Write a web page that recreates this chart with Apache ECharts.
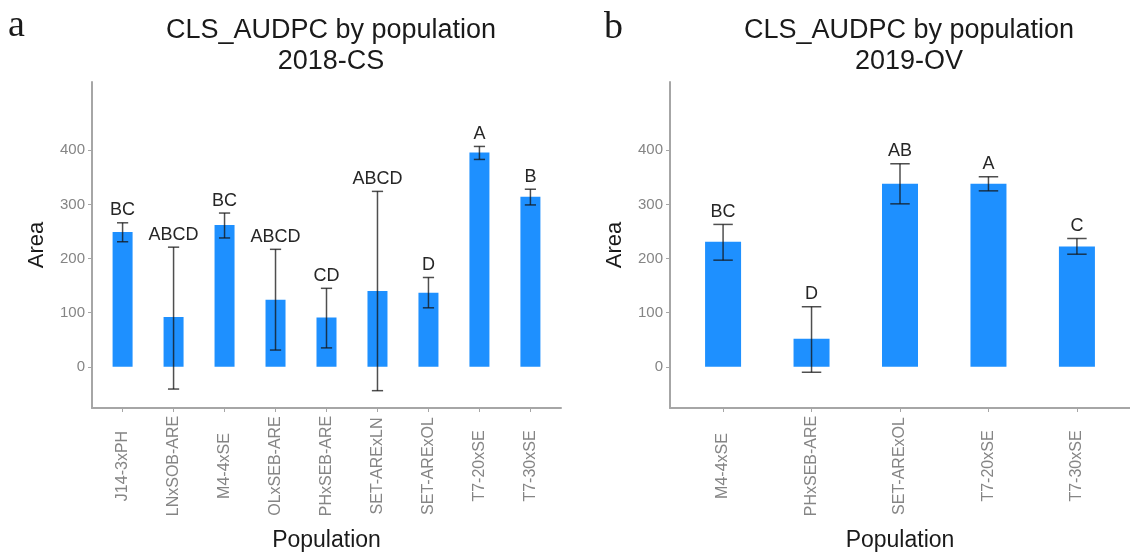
<!DOCTYPE html>
<html>
<head>
<meta charset="utf-8">
<script src="https://cdn.jsdelivr.net/npm/echarts@6/dist/echarts.min.js"></script>
<style>
html,body{margin:0;padding:0;background:#fff;}
#chart{width:1130px;height:557px;}
</style>
</head>
<body>
<div id="chart"></div>
<script>
// ---- data ----
const cats2018 = ['J14-3xPH','LNxSOB-ARE','M4-4xSE','OLxSEB-ARE','PHxSEB-ARE','SET-ARExLN','SET-ARExOL','T7-20xSE','T7-30xSE'];
const mean2018 = [249, 92, 262, 124, 91, 140, 137, 396, 314];
const low2018  = [231, -41, 238, 31, 35, -44, 109, 383, 299];
const high2018 = [266, 221, 284, 217, 145, 324, 165, 407, 328];
const letters2018 = ['BC','ABCD','BC','ABCD','CD','ABCD','D','A','B'];

const cats2019 = ['M4-4xSE','PHxSEB-ARE','SET-ARExOL','T7-20xSE','T7-30xSE'];
const mean2019 = [231, 52, 338, 338, 222];
const low2019  = [197, -10, 301, 325, 208];
const high2019 = [263, 111, 375, 351, 237];
const letters2019 = ['BC','D','AB','A','C'];

const yTicks = [0, 100, 200, 300, 400];
const titles = ['CLS_AUDPC by population\n2018-CS', 'CLS_AUDPC by population\n2019-OV'];
const panelTags = ['a', 'b'];

// ---- styling ----
const FONT = 'Liberation Sans, Arial, sans-serif';
const AXIS_GRAY = '#a6a6a6';
const TICK_TEXT = '#858585';
const BAR = '#1E90FF';

const chart = echarts.init(document.getElementById('chart'));

function xAxisFor(cats, gridIndex) {
  const idx = cats.map((_, i) => i + 1);
  return {
    type: 'value', gridIndex, min: 0.4, max: cats.length + 0.6,
    name: 'Population', nameLocation: 'middle', nameGap: 121,
    nameTextStyle: {fontFamily: FONT, fontSize: 23, color: '#1a1a1a'},
    splitLine: {show: false},
    axisLine: {show: true, onZero: false, lineStyle: {color: AXIS_GRAY, width: 2}},
    axisTick: {show: true, length: 4, customValues: idx, lineStyle: {color: AXIS_GRAY, width: 1}},
    axisLabel: {
      customValues: idx, rotate: 90, align: 'center', verticalAlign: 'middle', margin: 58,
      fontFamily: FONT, fontSize: 16, color: TICK_TEXT,
      formatter: v => cats[Math.round(v) - 1] || ''
    }
  };
}
function yAxisFor(gridIndex) {
  return {
    type: 'value', gridIndex, min: -76, max: 526,
    name: 'Area', nameLocation: 'middle', nameGap: 44, nameRotate: 90,
    nameTextStyle: {fontFamily: FONT, fontSize: 22, color: '#1a1a1a'},
    splitLine: {show: false},
    axisLine: {show: true, onZero: false, lineStyle: {color: AXIS_GRAY, width: 2}},
    axisTick: {show: true, length: 4, customValues: yTicks, lineStyle: {color: AXIS_GRAY, width: 1}},
    axisLabel: {customValues: yTicks, margin: 7, fontFamily: FONT, fontSize: 15, color: TICK_TEXT}
  };
}

function barSeries(means, gridIndex, width) {
  return {
    type: 'bar', xAxisIndex: gridIndex, yAxisIndex: gridIndex,
    barWidth: width, itemStyle: {color: BAR}, silent: true,
    data: means.map((m, i) => [i + 1, m])
  };
}
function errSeries(lows, highs, letters, gridIndex) {
  return {
    type: 'custom', xAxisIndex: gridIndex, yAxisIndex: gridIndex, silent: true, z: 5,
    data: lows.map((l, i) => [i + 1, l, highs[i], letters[i]]),
    renderItem: function (params, api) {
      const x = api.value(0);
      const lo = api.coord([x, api.value(1)]);
      const hi = api.coord([x, api.value(2)]);
      const half = api.size([0.11, 0])[0];
      const st = {stroke: 'rgba(20,20,20,0.75)', lineWidth: 1.5};
      return {
        type: 'group',
        children: [
          {type: 'line', shape: {x1: lo[0], y1: lo[1], x2: hi[0], y2: hi[1]}, style: st},
          {type: 'line', shape: {x1: lo[0] - half, y1: lo[1], x2: lo[0] + half, y2: lo[1]}, style: st},
          {type: 'line', shape: {x1: hi[0] - half, y1: hi[1], x2: hi[0] + half, y2: hi[1]}, style: st},
          {type: 'text', x: hi[0], y: hi[1] - 12.5,
           style: {text: api.value(3), textAlign: 'center', textVerticalAlign: 'middle',
                   fontFamily: FONT, fontSize: 18, fill: '#262626'}}
        ]
      };
    }
  };
}

const titleStyle = {fontFamily: FONT, fontSize: 27, fontWeight: 'normal', color: '#1a1a1a', lineHeight: 31};
const tagStyle = {fontFamily: 'Liberation Serif, Times New Roman, serif', fontSize: 38, fontWeight: 'normal', color: '#1a1a1a'};

chart.setOption({
  backgroundColor: '#ffffff',
  animation: false,
  title: [
    {text: titles[0], left: 326, top: 10, textAlign: 'center', textStyle: titleStyle},
    {text: titles[1], left: 904, top: 10, textAlign: 'center', textStyle: titleStyle},
    {text: panelTags[0], left: 3, top: 2, textStyle: tagStyle},
    {text: panelTags[1], left: 599, top: 4, textStyle: tagStyle}
  ],
  grid: [
    {left: 92, top: 82, width: 469, height: 329},
    {left: 670, top: 82, width: 468, height: 329}
  ],
  xAxis: [xAxisFor(cats2018, 0), xAxisFor(cats2019, 1)],
  yAxis: [yAxisFor(0), yAxisFor(1)],
  series: [
    barSeries(mean2018, 0, 20),
    errSeries(low2018, high2018, letters2018, 0),
    barSeries(mean2019, 1, 36),
    errSeries(low2019, high2019, letters2019, 1)
  ]
});
</script>
</body>
</html>
